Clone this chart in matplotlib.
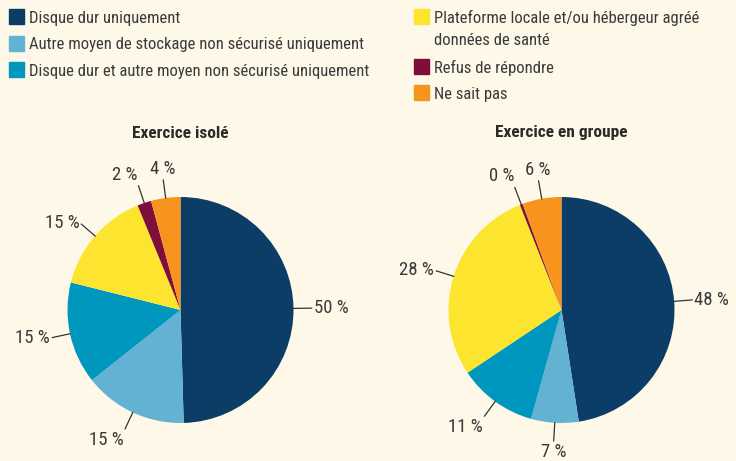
import matplotlib.pyplot as plt
from matplotlib.patches import Rectangle
import numpy as np

# categories and shares (%)
categories = [
    "Disque dur uniquement",
    "Autre moyen de stockage non sécurisé uniquement",
    "Disque dur et autre moyen non sécurisé uniquement",
    "Plateforme locale et/ou hébergeur agréé\ndonnées de santé",
    "Refus de répondre",
    "Ne sait pas",
]
colors = ["#0b3d66", "#63b1d3", "#0097bf", "#fde42e", "#7f0f3a", "#f7941d"]
isole = [49.6, 14.8, 14.6, 14.9, 2.0, 4.2]
groupe = [47.6, 6.8, 11.3, 28.4, 0.4, 5.6]
titles = ["Exercice isolé", "Exercice en groupe"]

bg = "#fdf8e8"
txt = "#3a3a3a"
plt.rcParams["font.family"] = ["Roboto Condensed", "DejaVu Sans"]

W, H = 736, 461
fig = plt.figure(figsize=(W / 100, H / 100), dpi=100, facecolor=bg)


def px(x, y):
    return x / W, 1 - y / H


# legend, drawn by hand in two columns
legend_cols = [(9, [16.7, 43.5, 70]), (414, [16.7, 66.7, 92.5])]
k = 0
for x0, rows in legend_cols:
    for yc in rows:
        fig.add_artist(Rectangle(px(x0, yc + 7.5), 15 / W, 15 / H,
                                 transform=fig.transFigure, color=colors[k]))
        for i, line in enumerate(categories[k].split("\n")):
            fig.text(*px(x0 + 20, yc + i * 22.5), line, fontsize=12,
                     color=txt, ha="left", va="center_baseline")
        k += 1


def draw_pie(cx, cy, r, values, title):
    ax = fig.add_axes([(cx - r) / W, 1 - (cy + r) / H, 2 * r / W, 2 * r / H])
    ax.set_facecolor(bg)
    wedges, _ = ax.pie(values, colors=colors, startangle=90, counterclock=False,
                       radius=1, wedgeprops=dict(linewidth=0))
    ax.set_xlim(-1, 1)
    ax.set_ylim(-1, 1)
    ax.axis("off")
    for w, v in zip(wedges, values):
        a = np.deg2rad((w.theta1 + w.theta2) / 2)
        x, y = np.cos(a), np.sin(a)
        ax.plot([x, 1.16 * x], [y, 1.16 * y], color="#333333", lw=0.9,
                clip_on=False)
        ha = "center" if abs(x) < 0.2 else ("left" if x > 0 else "right")
        va = "bottom" if y > 0.8 else ("top" if y < -0.8 else "center")
        ax.text(1.18 * x, 1.18 * y, f"{round(v)} %", fontsize=13.5, color=txt,
                ha=ha, va=va, clip_on=False)
    fig.text(*px(cx, cy - r - 64), title, fontsize=12.5, fontweight="bold",
             color="#2a2a2a", ha="center", va="center")


draw_pie(180.5, 310, 113, isole, titles[0])
draw_pie(561.5, 310, 113, groupe, titles[1])

fig.savefig("out.png", dpi=100, facecolor=bg)
